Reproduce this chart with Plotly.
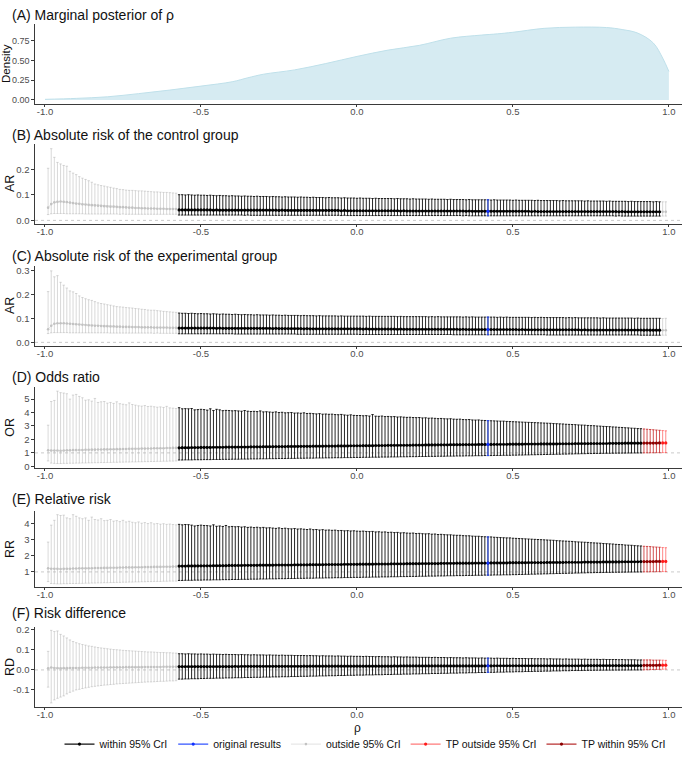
import numpy as np
import plotly.graph_objects as go
from plotly.subplots import make_subplots

# ---------------- data ----------------
rho = np.round(np.arange(-0.99, 0.995, 0.01), 2)   # 199 correlation values

dens_x = [-1.0, -0.9, -0.8, -0.7, -0.6, -0.5, -0.4, -0.35, -0.3, -0.2, -0.1, 0.0, 0.1, 0.2,
          0.3, 0.4, 0.45, 0.5, 0.6, 0.7, 0.8, 0.85, 0.9, 0.95, 0.98, 1.0]
dens_y = [0.008, 0.02, 0.04, 0.08, 0.125, 0.175, 0.23, 0.28, 0.325, 0.38, 0.46, 0.55, 0.63, 0.69,
          0.78, 0.82, 0.835, 0.855, 0.905, 0.92, 0.915, 0.89, 0.845, 0.72, 0.53, 0.36]

# (B) absolute risk control
b_mid = [.050,.064,.071,.073,.074,.073,.072,.070,.068,.066,
         .065,.063,.062,.061,.060,.059,.058,.057,.056,.055,
         .054,.054,.053,.052,.052,.051,.050,.050,.049,.049,
         .048,.048,.047,.047,.047,.046,.046,.046,.045,.045,
         .045,.045,.041,.041,.041,.041,.041,.041,.041,.041,
         .041,.041,.041,.040,.041,.040,.040,.040,.040,.040,
         .040,.040,.040,.040,.040,.040,.040,.040,.040,.040,
         .040,.040,.040,.040,.039,.040,.039,.039,.039,.039,
         .039,.039,.039,.039,.039,.039,.039,.039,.039,.039,
         .039,.039,.039,.039,.038,.039,.038,.038,.038,.038,
         .038,.038,.038,.038,.038,.038,.038,.038,.038,.038,
         .038,.038,.038,.037,.038,.037,.037,.037,.037,.037,
         .037,.037,.037,.037,.037,.037,.037,.037,.037,.037,
         .037,.037,.037,.037,.036,.037,.036,.036,.036,.036,
         .036,.036,.036,.036,.036,.036,.036,.036,.036,.036,
         .036,.036,.036,.036,.036,.035,.036,.035,.035,.035,
         .035,.035,.035,.035,.035,.035,.035,.035,.035,.035,
         .035,.035,.035,.035,.035,.035,.035,.035,.035,.035,
         .035,.035,.035,.034,.035,.034,.034,.034,.034,.034,
         .034,.034,.034,.034,.034,.034,.034,.034,.034]
b_lo = [.023,.026,.027,.027,.027,.027,.026,.026,.026,.026,
        .026,.026,.025,.025,.025,.025,.025,.025,.025,.025,
        .025,.025,.025,.024,.025,.024,.024,.024,.024,.024,
        .024,.024,.024,.024,.024,.024,.024,.024,.024,.024,
        .024,.024,.021,.021,.021,.021,.021,.021,.021,.021,
        .021,.021,.021,.021,.021,.021,.021,.021,.021,.021,
        .021,.021,.021,.020,.021,.020,.020,.020,.020,.020,
        .020,.020,.020,.020,.020,.020,.020,.020,.020,.020,
        .020,.020,.020,.020,.020,.020,.020,.020,.020,.020,
        .020,.020,.020,.020,.019,.020,.019,.019,.019,.019,
        .019,.019,.019,.019,.019,.019,.019,.019,.019,.019,
        .019,.019,.019,.019,.019,.019,.019,.019,.019,.019,
        .019,.019,.019,.019,.019,.019,.019,.019,.019,.019,
        .019,.019,.019,.018,.019,.018,.018,.018,.018,.018,
        .018,.018,.018,.018,.018,.018,.018,.018,.018,.018,
        .018,.018,.018,.018,.018,.018,.018,.018,.018,.018,
        .018,.018,.018,.018,.018,.018,.018,.018,.018,.018,
        .018,.018,.018,.018,.018,.018,.018,.018,.018,.018,
        .018,.018,.017,.018,.017,.017,.017,.017,.017,.017,
        .017,.017,.017,.017,.017,.017,.017,.017,.017]
b_hi = [.205,.282,.248,.228,.222,.216,.213,.193,.186,.180,
        .172,.166,.161,.156,.150,.143,.140,.137,.135,.132,
        .130,.127,.125,.122,.121,.119,.118,.118,.117,.116,
        .116,.115,.114,.113,.112,.112,.111,.110,.110,.109,
        .108,.107,.101,.101,.100,.101,.100,.099,.100,.099,
        .099,.098,.099,.098,.097,.098,.097,.097,.096,.097,
        .096,.096,.095,.096,.095,.095,.094,.095,.094,.094,
        .094,.093,.094,.093,.093,.092,.093,.092,.092,.092,
        .091,.092,.091,.091,.090,.091,.090,.090,.090,.089,
        .090,.089,.089,.089,.088,.089,.088,.088,.088,.087,
        .088,.087,.087,.087,.086,.087,.086,.086,.086,.086,
        .086,.085,.086,.085,.085,.085,.084,.085,.084,.084,
        .084,.084,.083,.084,.083,.083,.083,.083,.082,.083,
        .082,.082,.082,.082,.081,.082,.081,.081,.081,.081,
        .081,.081,.080,.081,.080,.080,.080,.080,.080,.079,
        .080,.079,.079,.079,.079,.079,.078,.079,.078,.078,
        .078,.078,.078,.078,.077,.078,.077,.077,.077,.077,
        .077,.077,.076,.077,.076,.076,.076,.076,.076,.075,
        .076,.075,.075,.075,.075,.075,.074,.075,.074,.074,
        .074,.074,.074,.074,.073,.074,.073,.073,.073]

# (C) absolute risk experimental
c_mid = [.055,.070,.078,.080,.080,.080,.079,.078,.077,.076,
         .075,.074,.073,.072,.071,.070,.070,.069,.068,.068,
         .067,.067,.066,.066,.065,.065,.065,.064,.064,.064,
         .063,.063,.063,.063,.062,.062,.062,.062,.062,.061,
         .061,.061,.060,.060,.060,.060,.060,.060,.060,.060,
         .060,.060,.060,.060,.059,.060,.059,.059,.059,.059,
         .059,.059,.059,.059,.059,.059,.059,.059,.059,.059,
         .059,.059,.058,.059,.058,.058,.058,.058,.058,.058,
         .058,.058,.057,.058,.057,.057,.057,.057,.057,.057,
         .057,.057,.057,.057,.057,.057,.057,.057,.057,.057,
         .057,.056,.057,.056,.056,.056,.056,.056,.056,.056,
         .056,.056,.055,.056,.055,.055,.055,.055,.055,.055,
         .055,.055,.055,.055,.055,.055,.055,.055,.055,.055,
         .055,.055,.054,.055,.054,.054,.054,.054,.054,.054,
         .054,.054,.054,.054,.054,.054,.054,.054,.054,.054,
         .054,.053,.054,.053,.053,.053,.053,.053,.053,.053,
         .053,.053,.053,.053,.053,.053,.053,.053,.053,.053,
         .053,.052,.053,.052,.052,.052,.052,.052,.052,.052,
         .052,.052,.052,.052,.052,.052,.052,.052,.052,.052,
         .052,.051,.052,.051,.051,.051,.051,.051,.051]
c_lo = [.037,.040,.041,.041,.041,.041,.041,.040,.040,.040,
        .040,.040,.040,.040,.040,.040,.040,.040,.040,.040,
        .039,.039,.039,.039,.039,.039,.039,.039,.039,.039,
        .039,.039,.039,.039,.038,.039,.038,.038,.038,.038,
        .038,.038,.036,.036,.036,.036,.036,.036,.036,.036,
        .036,.036,.036,.036,.036,.036,.036,.036,.036,.036,
        .035,.035,.035,.035,.035,.035,.035,.035,.035,.035,
        .035,.035,.035,.035,.035,.035,.035,.035,.035,.035,
        .034,.034,.034,.034,.034,.034,.034,.034,.034,.034,
        .034,.034,.034,.034,.034,.034,.034,.034,.034,.034,
        .033,.033,.033,.033,.033,.033,.033,.033,.033,.033,
        .033,.033,.033,.033,.033,.033,.033,.033,.033,.033,
        .033,.033,.033,.033,.033,.033,.033,.033,.033,.033,
        .032,.032,.032,.032,.032,.032,.032,.032,.032,.032,
        .032,.032,.032,.032,.032,.032,.032,.032,.032,.032,
        .032,.032,.032,.032,.032,.032,.032,.032,.032,.032,
        .031,.031,.031,.031,.031,.031,.031,.031,.031,.031,
        .031,.031,.031,.031,.031,.031,.031,.031,.031,.031,
        .031,.031,.031,.031,.031,.031,.031,.031,.031,.031,
        .030,.030,.030,.030,.030,.030,.030,.030,.030]
c_hi = [.213,.300,.275,.280,.252,.240,.228,.216,.212,.205,
        .195,.188,.183,.179,.176,.171,.166,.163,.161,.158,
        .156,.153,.150,.149,.148,.146,.145,.144,.142,.141,
        .139,.138,.136,.135,.135,.133,.132,.130,.129,.128,
        .127,.126,.123,.122,.122,.121,.122,.121,.120,.121,
        .120,.120,.119,.120,.119,.118,.119,.118,.118,.117,
        .118,.117,.116,.117,.116,.116,.115,.116,.115,.115,
        .115,.114,.115,.114,.114,.113,.114,.113,.113,.113,
        .113,.112,.113,.112,.112,.112,.111,.112,.111,.111,
        .111,.111,.111,.110,.111,.110,.110,.110,.110,.110,
        .110,.110,.109,.110,.109,.109,.109,.109,.109,.109,
        .109,.109,.108,.109,.108,.108,.108,.108,.108,.108,
        .108,.108,.107,.108,.107,.108,.107,.107,.107,.107,
        .107,.107,.107,.106,.107,.106,.107,.106,.106,.106,
        .106,.106,.106,.106,.105,.106,.105,.106,.105,.105,
        .105,.105,.105,.105,.105,.104,.105,.104,.105,.104,
        .104,.104,.104,.104,.104,.104,.103,.104,.103,.104,
        .103,.103,.103,.103,.103,.103,.103,.102,.103,.102,
        .102,.102,.102,.102,.102,.102,.102,.102,.101,.102,
        .101,.101,.101,.101,.101,.101,.101,.100,.101]

# (D) odds ratio
d_mid = [1.20,1.18,1.17,1.18,1.16,1.18,1.19,1.20,1.21,1.21,
         1.22,1.22,1.23,1.23,1.24,1.24,1.25,1.25,1.26,1.26,
         1.27,1.27,1.28,1.28,1.29,1.29,1.30,1.30,1.31,1.31,
         1.32,1.32,1.33,1.33,1.34,1.34,1.35,1.35,1.36,1.36,
         1.37,1.37,1.38,1.39,1.39,1.39,1.40,1.40,1.40,1.41,
         1.41,1.41,1.41,1.42,1.42,1.42,1.42,1.43,1.43,1.43,
         1.43,1.44,1.44,1.44,1.44,1.45,1.45,1.45,1.45,1.46,
         1.46,1.46,1.46,1.47,1.47,1.47,1.47,1.48,1.48,1.48,
         1.48,1.49,1.49,1.49,1.49,1.50,1.50,1.50,1.50,1.51,
         1.51,1.51,1.51,1.52,1.52,1.52,1.52,1.53,1.53,1.53,
         1.53,1.54,1.54,1.54,1.54,1.55,1.55,1.55,1.55,1.56,
         1.56,1.56,1.56,1.57,1.57,1.57,1.57,1.58,1.58,1.58,
         1.58,1.59,1.59,1.59,1.59,1.60,1.60,1.60,1.60,1.61,
         1.61,1.61,1.61,1.62,1.62,1.62,1.62,1.62,1.63,1.63,
         1.63,1.63,1.63,1.64,1.64,1.64,1.64,1.64,1.65,1.65,
         1.65,1.65,1.65,1.66,1.66,1.66,1.66,1.66,1.67,1.67,
         1.67,1.67,1.67,1.67,1.68,1.68,1.68,1.68,1.68,1.69,
         1.69,1.69,1.69,1.69,1.70,1.70,1.70,1.70,1.70,1.70,
         1.71,1.71,1.71,1.71,1.71,1.72,1.72,1.72,1.72,1.72,
         1.72,1.73,1.73,1.73,1.73,1.73,1.74,1.74,1.74]
d_lo = [.40,.24,.22,.21,.21,.22,.22,.23,.23,.24,
        .24,.25,.25,.26,.26,.27,.27,.28,.28,.29,
        .29,.30,.30,.31,.31,.32,.32,.33,.33,.34,
        .34,.35,.35,.36,.36,.37,.37,.38,.38,.39,
        .39,.40,.47,.47,.48,.48,.48,.49,.49,.49,
        .50,.50,.50,.51,.51,.51,.52,.52,.52,.53,
        .53,.53,.54,.54,.54,.55,.55,.55,.56,.56,
        .56,.57,.57,.57,.58,.58,.58,.59,.59,.59,
        .60,.60,.60,.61,.61,.61,.62,.62,.62,.63,
        .63,.63,.64,.64,.64,.65,.65,.65,.66,.66,
        .66,.67,.67,.67,.68,.68,.68,.69,.69,.69,
        .70,.70,.70,.71,.71,.71,.72,.72,.72,.73,
        .73,.73,.74,.74,.74,.75,.75,.75,.76,.76,
        .76,.77,.77,.77,.78,.78,.78,.79,.79,.79,
        .80,.80,.80,.81,.81,.81,.82,.82,.82,.83,
        .83,.84,.84,.85,.85,.86,.86,.87,.87,.88,
        .88,.89,.89,.90,.90,.91,.91,.92,.92,.93,
        .93,.94,.94,.95,.95,.955,.96,.96,.965,.97,
        .97,.975,.978,.98,.983,.985,.988,.99,.992,.994,
        .996,1.002,1.005,1.008,1.011,1.014,1.017,1.020,1.023]
d_hi = [3.06,4.82,4.90,5.59,5.48,5.45,5.40,5.00,5.30,5.35,
        5.20,5.10,4.92,4.95,4.85,5.05,4.75,4.80,4.82,4.70,
        4.75,4.68,4.80,4.66,4.62,4.58,4.72,4.60,4.55,4.50,
        4.48,4.52,4.45,4.47,4.43,4.40,4.42,4.38,4.46,4.35,
        4.33,4.30,4.36,4.28,4.29,4.28,4.30,4.20,4.22,4.24,
        4.22,4.18,4.28,4.15,4.24,4.20,4.14,4.16,4.15,4.13,
        4.14,4.12,4.10,4.15,4.10,4.08,4.09,4.07,4.12,4.05,
        4.06,4.04,4.02,4.05,4.00,4.02,3.98,3.99,4.00,3.96,
        3.97,3.95,3.98,3.93,3.94,3.92,3.90,3.92,3.88,3.89,
        3.87,3.88,3.85,3.84,3.86,3.82,3.80,3.83,3.79,3.78,
        3.78,3.76,3.77,3.74,3.85,3.73,3.72,3.74,3.70,3.71,
        3.69,3.70,3.67,3.68,3.66,3.64,3.65,3.63,3.62,3.63,
        3.60,3.61,3.58,3.59,3.57,3.55,3.56,3.54,3.53,3.54,
        3.51,3.50,3.51,3.48,3.47,3.48,3.45,3.44,3.45,3.42,
        3.41,3.40,3.39,3.38,3.37,3.36,3.36,3.34,3.33,3.32,
        3.31,3.30,3.29,3.28,3.27,3.26,3.25,3.24,3.23,3.22,
        3.21,3.20,3.18,3.17,3.16,3.15,3.13,3.12,3.11,3.10,
        3.08,3.07,3.06,3.04,3.03,3.02,3.00,2.99,2.97,2.96,
        2.95,2.93,2.92,2.90,2.89,2.87,2.86,2.84,2.83,2.81,
        2.80,2.78,2.76,2.74,2.72,2.70,2.68,2.66,2.64]

# (E) relative risk
e_mid = [1.22,1.20,1.19,1.19,1.18,1.19,1.20,1.20,1.21,1.21,
         1.22,1.22,1.22,1.23,1.23,1.24,1.24,1.24,1.25,1.25,
         1.26,1.26,1.26,1.27,1.27,1.28,1.28,1.28,1.29,1.29,
         1.29,1.30,1.30,1.30,1.31,1.31,1.31,1.32,1.32,1.32,
         1.33,1.33,1.36,1.36,1.36,1.37,1.37,1.37,1.37,1.38,
         1.38,1.38,1.38,1.39,1.39,1.39,1.39,1.39,1.40,1.40,
         1.40,1.40,1.40,1.41,1.41,1.41,1.41,1.41,1.42,1.42,
         1.42,1.42,1.42,1.43,1.43,1.43,1.43,1.43,1.43,1.44,
         1.44,1.44,1.44,1.44,1.45,1.45,1.45,1.45,1.45,1.46,
         1.46,1.46,1.46,1.46,1.46,1.47,1.47,1.47,1.47,1.47,
         1.48,1.48,1.48,1.48,1.48,1.49,1.49,1.49,1.49,1.49,
         1.50,1.50,1.50,1.50,1.50,1.51,1.51,1.51,1.51,1.51,
         1.52,1.52,1.52,1.52,1.52,1.52,1.53,1.53,1.53,1.53,
         1.53,1.54,1.54,1.54,1.54,1.54,1.54,1.55,1.55,1.55,
         1.55,1.55,1.56,1.56,1.56,1.56,1.56,1.56,1.57,1.57,
         1.57,1.57,1.57,1.57,1.58,1.58,1.58,1.58,1.58,1.58,
         1.59,1.59,1.59,1.59,1.59,1.59,1.60,1.60,1.60,1.60,
         1.60,1.60,1.61,1.61,1.61,1.61,1.61,1.61,1.62,1.62,
         1.62,1.62,1.62,1.62,1.63,1.63,1.63,1.63,1.63,1.63,
         1.64,1.64,1.64,1.64,1.64,1.65,1.65,1.65,1.65]
e_lo = [.40,.28,.27,.26,.26,.27,.27,.28,.28,.28,
        .29,.29,.30,.30,.31,.31,.32,.32,.33,.33,
        .34,.34,.35,.35,.36,.36,.37,.37,.38,.38,
        .39,.39,.40,.40,.41,.41,.41,.42,.42,.43,
        .43,.43,.47,.47,.48,.48,.48,.49,.49,.49,
        .50,.50,.50,.51,.51,.51,.52,.52,.52,.53,
        .53,.53,.54,.54,.54,.55,.55,.55,.56,.56,
        .56,.57,.57,.57,.58,.58,.58,.59,.59,.59,
        .60,.60,.60,.61,.61,.61,.62,.62,.62,.63,
        .63,.63,.64,.64,.64,.65,.65,.65,.66,.66,
        .66,.67,.67,.67,.68,.68,.68,.69,.69,.69,
        .70,.70,.70,.71,.71,.71,.72,.72,.72,.73,
        .73,.73,.74,.74,.74,.75,.75,.75,.76,.76,
        .76,.77,.77,.77,.78,.78,.78,.79,.79,.79,
        .80,.80,.80,.81,.81,.81,.82,.82,.82,.83,
        .83,.84,.84,.85,.85,.86,.86,.87,.87,.88,
        .88,.89,.89,.90,.90,.91,.91,.92,.92,.93,
        .93,.94,.94,.95,.95,.955,.96,.96,.965,.97,
        .97,.975,.978,.98,.983,.985,.988,.99,.992,.994,
        .996,1.002,1.004,1.007,1.010,1.013,1.016,1.019,1.022]
e_hi = [2.85,3.90,4.20,4.55,4.50,4.52,4.35,4.30,4.55,4.45,
        4.35,4.30,4.35,4.20,4.40,4.25,4.22,4.30,4.18,4.20,
        4.25,4.15,4.18,4.12,4.20,4.10,4.14,4.08,4.05,4.10,
        4.02,4.06,4.00,4.05,3.98,4.00,3.96,3.99,3.95,3.97,
        3.94,3.92,3.95,3.92,3.94,3.93,3.90,3.85,3.88,3.90,
        3.88,3.87,3.85,3.92,3.83,3.85,3.82,3.88,3.80,3.82,
        3.80,3.81,3.78,3.80,3.76,3.78,3.75,3.77,3.74,3.76,
        3.73,3.74,3.72,3.70,3.73,3.69,3.71,3.68,3.67,3.69,
        3.66,3.67,3.65,3.63,3.66,3.62,3.63,3.60,3.62,3.59,
        3.60,3.58,3.59,3.56,3.57,3.55,3.56,3.54,3.55,3.53,
        3.52,3.53,3.51,3.50,3.51,3.48,3.49,3.47,3.48,3.45,
        3.46,3.44,3.45,3.42,3.43,3.41,3.40,3.41,3.38,3.39,
        3.37,3.36,3.37,3.34,3.35,3.32,3.33,3.31,3.30,3.30,
        3.28,3.27,3.27,3.25,3.24,3.24,3.22,3.21,3.21,3.19,
        3.18,3.17,3.17,3.15,3.14,3.13,3.12,3.11,3.11,3.09,
        3.08,3.07,3.06,3.05,3.04,3.03,3.02,3.01,3.00,2.99,
        2.98,2.97,2.96,2.94,2.93,2.92,2.91,2.90,2.89,2.87,
        2.86,2.85,2.84,2.83,2.81,2.80,2.79,2.78,2.76,2.75,
        2.74,2.73,2.71,2.70,2.69,2.67,2.66,2.65,2.63,2.62,
        2.61,2.59,2.58,2.57,2.55,2.54,2.53,2.51,2.50]

# (F) risk difference
f_mid = [.008,.012,.010,.009,.008,.009,.009,.010,.010,.010,
         .010,.011,.011,.011,.011,.012,.012,.012,.012,.012,
         .013,.013,.013,.013,.013,.014,.014,.014,.014,.014,
         .014,.015,.015,.015,.015,.015,.015,.016,.016,.016,
         .016,.016,.017,.017,.017,.017,.017,.017,.017,.017,
         .017,.017,.017,.017,.017,.017,.017,.017,.017,.017,
         .018,.017,.018,.018,.018,.018,.018,.018,.018,.018,
         .018,.018,.018,.018,.018,.018,.018,.018,.018,.018,
         .018,.018,.019,.018,.019,.019,.019,.019,.019,.019,
         .019,.019,.019,.019,.019,.019,.019,.019,.019,.019,
         .019,.019,.019,.019,.019,.019,.019,.019,.019,.019,
         .019,.020,.019,.020,.020,.020,.020,.020,.020,.020,
         .020,.020,.020,.020,.020,.020,.020,.020,.020,.020,
         .020,.020,.020,.020,.020,.020,.020,.020,.020,.020,
         .020,.021,.020,.021,.021,.021,.021,.021,.021,.021,
         .021,.021,.021,.021,.021,.021,.021,.021,.021,.021,
         .021,.021,.021,.021,.021,.021,.021,.021,.021,.021,
         .021,.022,.021,.022,.022,.022,.022,.022,.022,.022,
         .022,.022,.022,.022,.022,.022,.022,.022,.022,.022,
         .022,.023,.023,.023,.023,.023,.024,.024,.024]
f_lo = [-.086,-.165,-.150,-.142,-.136,-.130,-.120,-.112,-.106,-.100,
        -.097,-.093,-.090,-.087,-.084,-.082,-.080,-.078,-.076,-.075,
        -.073,-.072,-.070,-.069,-.068,-.067,-.066,-.065,-.064,-.063,
        -.062,-.061,-.060,-.060,-.059,-.058,-.057,-.057,-.056,-.055,
        -.055,-.054,-.046,-.046,-.045,-.045,-.044,-.044,-.044,-.043,
        -.043,-.042,-.042,-.042,-.041,-.041,-.041,-.040,-.040,-.040,
        -.039,-.039,-.039,-.038,-.038,-.038,-.037,-.037,-.037,-.036,
        -.036,-.036,-.035,-.035,-.035,-.034,-.034,-.034,-.033,-.033,
        -.033,-.032,-.032,-.032,-.031,-.031,-.031,-.030,-.030,-.030,
        -.029,-.029,-.029,-.028,-.028,-.028,-.027,-.027,-.027,-.026,
        -.026,-.026,-.025,-.025,-.025,-.024,-.024,-.024,-.023,-.023,
        -.023,-.022,-.022,-.022,-.021,-.021,-.021,-.020,-.020,-.020,
        -.019,-.019,-.019,-.018,-.018,-.018,-.017,-.017,-.017,-.016,
        -.016,-.016,-.015,-.015,-.015,-.014,-.014,-.014,-.013,-.013,
        -.013,-.012,-.012,-.012,-.011,-.011,-.011,-.010,-.010,-.010,
        -.009,-.009,-.009,-.008,-.008,-.008,-.007,-.007,-.007,-.006,
        -.006,-.006,-.005,-.005,-.005,-.004,-.004,-.004,-.003,-.003,
        -.003,-.003,-.0025,-.0022,-.002,-.0018,-.0016,-.0014,-.0013,-.0012,
        -.0011,-.0010,-.0009,-.0008,-.0007,-.0006,-.0005,-.0004,-.0003,-.0002,
        -.0001,.0005,.0010,.0015,.0020,.0025,.0030,.0035,.0040]
f_hi = [.093,.198,.192,.195,.178,.170,.160,.150,.142,.136,
        .131,.127,.124,.120,.118,.115,.112,.110,.108,.106,
        .104,.102,.101,.100,.098,.097,.096,.095,.094,.093,
        .092,.091,.090,.090,.089,.088,.087,.087,.086,.086,
        .085,.084,.081,.081,.080,.081,.080,.080,.079,.080,
        .079,.079,.078,.079,.078,.078,.077,.078,.077,.077,
        .077,.076,.077,.076,.076,.075,.076,.075,.075,.075,
        .074,.075,.074,.074,.073,.074,.073,.073,.073,.072,
        .072,.072,.072,.071,.072,.071,.071,.070,.071,.070,
        .070,.070,.069,.070,.069,.069,.068,.069,.068,.068,
        .068,.067,.068,.067,.067,.066,.067,.066,.066,.066,
        .065,.066,.065,.065,.064,.065,.064,.064,.064,.063,
        .063,.063,.063,.062,.063,.062,.062,.062,.061,.062,
        .061,.061,.061,.060,.061,.060,.060,.060,.059,.060,
        .059,.059,.059,.058,.059,.058,.058,.058,.057,.058,
        .057,.057,.057,.057,.056,.057,.056,.056,.056,.056,
        .055,.056,.055,.055,.055,.054,.055,.054,.054,.054,
        .054,.053,.054,.053,.053,.053,.053,.052,.053,.052,
        .052,.052,.052,.051,.052,.051,.051,.051,.051,.050,
        .050,.050,.050,.050,.049,.049,.049,.049,.048]

CRI_LOW = -0.57      # first rho inside the 95% CrI
CRI_HIGH = 0.97      # last rho inside the 95% CrI
TP_START = 0.92      # first tipping point (panels D-F)
RHO_ORIG = 0.42      # original-results rho

x_ticks = [-1.0, -0.5, 0.0, 0.5, 1.0]
x_ticktext = ["-1.0", "-0.5", "0.0", "0.5", "1.0"]

# ---------------- layout geometry ----------------
W, H = 685, 759
L, R = 35, 3
PW = W - L - R
XR = [-1.032, 1.042]
FONT = "Liberation Sans, Arial, sans-serif"


def fx(p):
    return (p - L) / PW


def fy(p):
    return 1 - p / H


panels = [
    # title, ytitle, top px, bottom px, yrange, tickvals, ticktext, title px, ref
    ("(A) Marginal posterior of ρ", "Density", 21.6, 101.6, [-0.045, 0.955],
     [0, 0.25, 0.5, 0.75], ["0.00", "0.25", "0.50", "0.75"], 12, None),
    ("(B) Absolute risk of the control group", "AR", 142.6, 223.3, [-0.014, 0.30],
     [0, 0.1, 0.2], ["0.0", "0.1", "0.2"], 133, 0),
    ("(C) Absolute risk of the experimental group", "AR", 265.9, 346.6, [-0.015, 0.32],
     [0, 0.1, 0.2, 0.3], ["0.0", "0.1", "0.2", "0.3"], 256, 0),
    ("(D) Odds ratio", "OR", 388.5, 469.9, [-0.12, 5.87],
     [0, 1, 2, 3, 4, 5], ["0", "1", "2", "3", "4", "5"], 378, 1),
    ("(E) Relative risk", "RR", 513.7, 589.8, [0.09, 4.76],
     [1, 2, 3, 4], ["1", "2", "3", "4"], 501, 1),
    ("(F) Risk difference", "RD", 631.0, 711.0, [-0.183, 0.213],
     [-0.1, 0, 0.1, 0.2], ["-0.1", "0.0", "0.1", "0.2"], 617, 0),
]

fig = make_subplots(rows=6, cols=1)

# panel A: density
fig.add_trace(go.Scatter(x=dens_x, y=dens_y, mode="lines", fill="tozeroy",
                         line=dict(color="#bfe0ea", width=1, shape="spline"),
                         fillcolor="rgba(173,216,230,0.5)", showlegend=False,
                         hoverinfo="skip"), row=1, col=1)

styles = {
    "outside": dict(name="outside 95% CrI", line="#dadada", bar="rgba(170,170,170,0.45)",
                    marker="#c2c2c2", rank=3, lw=0.8, ms=2.6),
    "within": dict(name="within 95% CrI", line="#111111", bar="rgba(0,0,0,0.85)",
                   marker="#000000", rank=1, lw=1.2, ms=3.2),
    "tp_out": dict(name="TP outside 95% CrI", line="#ff7a7a", bar="rgba(255,40,40,0.55)",
                   marker="#ff1a1a", rank=4, lw=1.2, ms=3.2),
    "tp_in": dict(name="TP within 95% CrI", line="#b83030", bar="rgba(195,25,25,0.75)",
                  marker="#8b0000", rank=5, lw=1.2, ms=3.2),
    "orig": dict(name="original results", line="#3355ff", bar="#2a4dff",
                 marker="#1030ff", rank=2, lw=1.2, ms=3.2),
}


def runs(mask):
    idx = np.where(mask)[0]
    if len(idx) == 0:
        return []
    out, start = [], idx[0]
    for a, b in zip(idx[:-1], idx[1:]):
        if b != a + 1:
            out.append((start, a))
            start = b
    out.append((start, idx[-1]))
    return out


legend_done = set()


def add_group(row, key, mask, lo, mid, hi, legend_row):
    st = styles[key]
    for (s, e) in runs(mask):
        sl = slice(s, e + 1)
        show = (row == legend_row) and key not in legend_done
        if show:
            legend_done.add(key)
        fig.add_trace(go.Scatter(
            x=rho[sl], y=mid[sl], mode="lines+markers",
            line=dict(color=st["line"], width=st["lw"]),
            marker=dict(color=st["marker"], size=st["ms"]),
            error_y=dict(type="data", symmetric=False,
                         array=hi[sl] - mid[sl], arrayminus=mid[sl] - lo[sl],
                         color=st["bar"], thickness=1, width=1.2),
            name=st["name"], legendgroup=key, legendrank=st["rank"],
            showlegend=show, hoverinfo="skip"), row=row, col=1)


series = [
    (2, b_lo, b_mid, b_hi, False),
    (3, c_lo, c_mid, c_hi, False),
    (4, d_lo, d_mid, d_hi, True),
    (5, e_lo, e_mid, e_hi, True),
    (6, f_lo, f_mid, f_hi, True),
]

eps = 1e-9
for row, lo, mid, hi, has_tp in series:
    lo, mid, hi = np.array(lo), np.array(mid), np.array(hi)
    assert len(lo) == len(mid) == len(hi) == len(rho), (row, len(lo), len(mid), len(hi))
    inside = (rho >= CRI_LOW - eps) & (rho <= CRI_HIGH + eps)
    if has_tp:
        tp = rho >= TP_START - eps
        within = inside & ~tp
        tp_in = inside & tp
        tp_out = (~inside) & tp
        outside = (~inside) & ~tp
    else:
        within = inside
        outside = ~inside
        tp_in = tp_out = np.zeros_like(inside)
    add_group(row, "outside", outside, lo, mid, hi, 4)
    add_group(row, "within", within, lo, mid, hi, 4)
    add_group(row, "tp_in", tp_in, lo, mid, hi, 4)
    add_group(row, "tp_out", tp_out, lo, mid, hi, 4)
    orig = np.abs(rho - RHO_ORIG) < eps
    add_group(row, "orig", orig, lo, mid, hi, 4)

# ---------------- axes ----------------
axis_line = "#3a3a3a"
tickfont = dict(family=FONT, size=9.5, color="#4d4d4d")
annotations = []
for i, (title, ytitle, top, bot, yr, tv, tt, ty, ref) in enumerate(panels):
    n = i + 1
    xa = "xaxis" if n == 1 else f"xaxis{n}"
    ya = "yaxis" if n == 1 else f"yaxis{n}"
    fig.layout[xa].update(domain=[0, 1], range=XR, showline=True, linecolor=axis_line,
                          linewidth=1.3, ticks="outside", ticklen=2, tickcolor=axis_line,
                          tickvals=x_ticks, ticktext=x_ticktext, tickfont=tickfont,
                          ticklabelstandoff=-3, showgrid=False, zeroline=False)
    fig.layout[ya].update(domain=[fy(bot), fy(top)], range=yr, showline=True,
                          linecolor=axis_line, linewidth=1.3, ticks="outside", ticklen=2.5,
                          tickcolor=axis_line, tickvals=tv, ticktext=tt,
                          tickfont=dict(family=FONT, size=9 if n == 1 else 9.5,
                                        color="#4d4d4d"),
                          showgrid=False, zeroline=False)
    annotations.append(dict(text=title, x=fx(11), y=fy(ty), xref="paper", yref="paper",
                            xanchor="left", yanchor="middle", showarrow=False, borderpad=0,
                            font=dict(family=FONT, size=14, color="#111111")))
    annotations.append(dict(text=ytitle, x=fx(6 if n == 1 else 10), y=fy((top + bot) / 2),
                            xref="paper", yref="paper", xanchor="center", yanchor="middle",
                            textangle=-90, showarrow=False, borderpad=0,
                            font=dict(family=FONT, size=11.5 if n == 1 else 12.5,
                                      color="#111111")))
    if ref is not None:
        fig.add_hline(y=ref, row=n, col=1, layer="below",
                      line=dict(color="#c4c4c4", width=0.9, dash="3px,3px"))

annotations.append(dict(text="ρ", x=fx(357), y=fy(733), xref="paper", yref="paper",
                        xanchor="center", yanchor="middle", showarrow=False, borderpad=0,
                        font=dict(family=FONT, size=12, color="#111111")))

fig.update_layout(
    width=W, height=H, autosize=False,
    margin=dict(l=L, r=R, t=0, b=0),
    paper_bgcolor="white", plot_bgcolor="white",
    annotations=annotations,
    legend=dict(orientation="h", x=fx(365), xanchor="center", y=fy(749), yanchor="middle",
                font=dict(family=FONT, size=10.5, color="#111111"),
                itemwidth=30, tracegroupgap=0, bgcolor="rgba(0,0,0,0)"),
    showlegend=True,
)

fig.write_html("out.html", config={"displayModeBar": False},
               post_script="document.body.style.margin='0';")
